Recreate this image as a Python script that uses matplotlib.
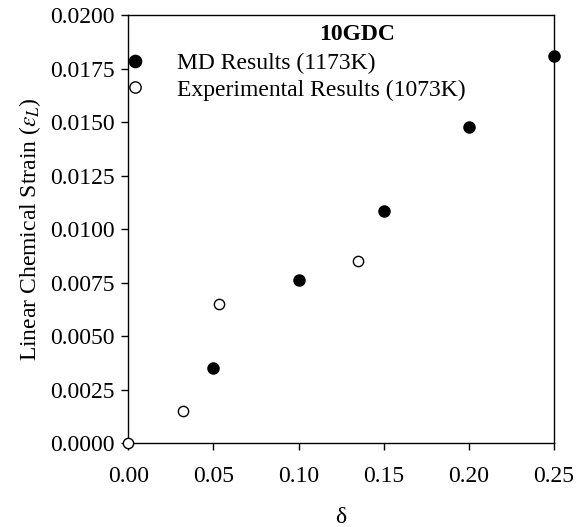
import numpy as np
import matplotlib
matplotlib.use("Agg")
import matplotlib.pyplot as plt

# ---------- data ----------
delta_md = np.array([0.05, 0.10, 0.15, 0.20, 0.25])
strain_md = np.array([0.00354, 0.00761, 0.01086, 0.01478, 0.01808])

delta_exp = np.array([0.0, 0.032, 0.053, 0.135])
strain_exp = np.array([0.0, 0.00151, 0.00652, 0.00850])

xticks = [0.00, 0.05, 0.10, 0.15, 0.20, 0.25]
yticks = [0.0000, 0.0025, 0.0050, 0.0075, 0.0100, 0.0125, 0.0150, 0.0175, 0.0200]

plt.rcParams["font.family"] = ["Liberation Serif", "DejaVu Serif"]
plt.rcParams["mathtext.fontset"] = "stix"
FS = 17

fig = plt.figure(figsize=(5.77, 5.27), dpi=100)
ax = fig.add_axes([0.2224, 0.1588, 0.7377, 0.8127])

ax.plot(delta_md, strain_md, "o", ms=8, mfc="black", mec="black",
        clip_on=False, zorder=3, label="MD Results (1173K)")
ax.plot(delta_exp, strain_exp, "o", ms=7.4, mfc="white", mec="black", mew=1.0,
        clip_on=False, zorder=3, label="Experimental Results (1073K)")

ax.set_xlim(0, 0.25)
ax.set_ylim(0, 0.02)
ax.set_xticks(xticks)
ax.set_xticklabels([f"{v:.2f}" for v in xticks])
ax.set_yticks(yticks)
ax.set_yticklabels([f"{v:.4f}" for v in yticks])
ax.tick_params(direction="out", length=5, width=1, labelsize=FS, top=False, right=False)
ax.tick_params(axis="x", pad=11)
ax.tick_params(axis="y", pad=5)
for s in ax.spines.values():
    s.set_linewidth(1.0)

ax.set_xlabel("δ", fontsize=FS, labelpad=15)
ax.set_ylabel(r"Linear Chemical Strain ($\varepsilon_L$)", fontsize=FS, labelpad=5)

ax.text(0.537, 0.954, "10GDC", transform=ax.transAxes, fontsize=FS,
        fontweight="bold", ha="center", va="center")
ax.legend(loc="upper left", bbox_to_anchor=(-0.023, 0.924), frameon=False,
          fontsize=FS, handletextpad=1.27, labelspacing=0.22,
          handlelength=1.0, borderpad=0.2, borderaxespad=0, markerscale=1.1)

fig.savefig("out.png", dpi=100)
